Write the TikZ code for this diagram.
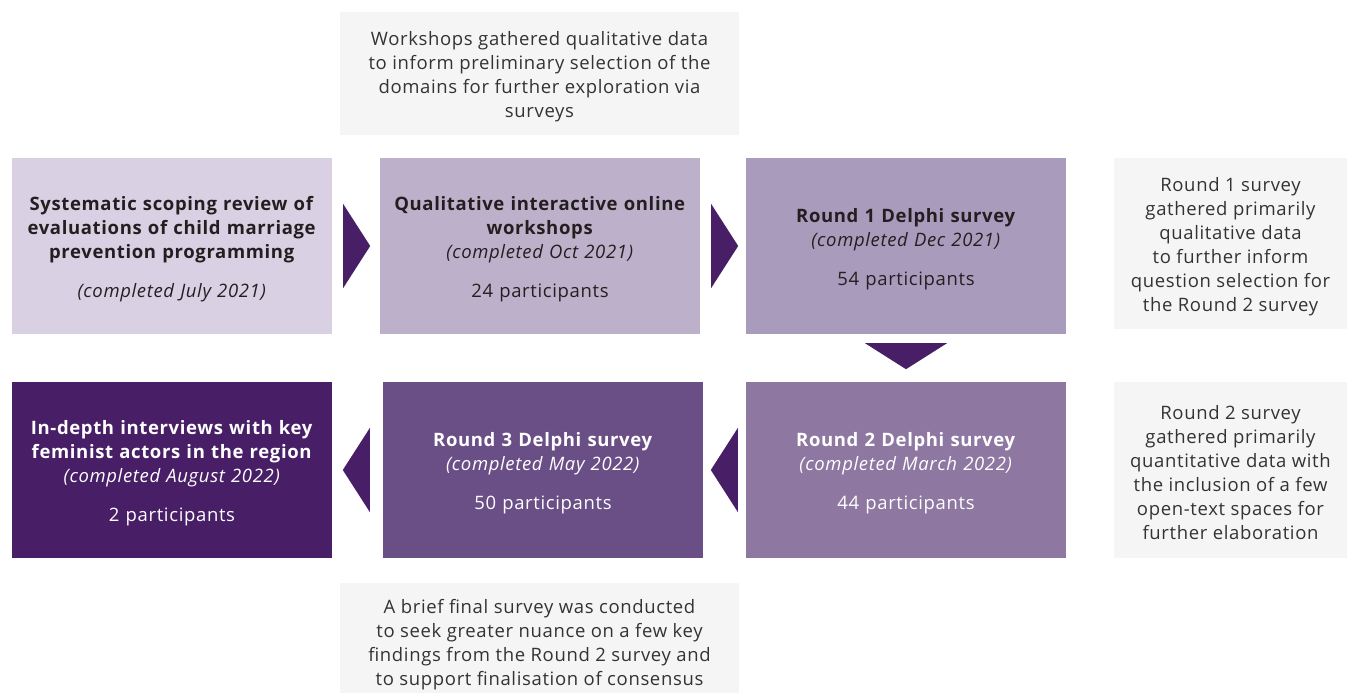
\documentclass[tikz,border=0pt]{standalone}
\usepackage{fontspec}
\setmainfont{Open Sans}[LetterSpace=3.5]
\usetikzlibrary{calc}
\definecolor{cA}{HTML}{D9D1E3}
\definecolor{cB}{HTML}{BDB0CB}
\definecolor{cC}{HTML}{A99BBC}
\definecolor{cD}{HTML}{8E78A1}
\definecolor{cE}{HTML}{6A4E86}
\definecolor{cF}{HTML}{481E66}
\definecolor{gbox}{HTML}{F5F5F5}
\definecolor{darktext}{HTML}{231F20}
\definecolor{graytext}{HTML}{333333}
\tikzset{
  stage/.style={minimum width=320pt, minimum height=176pt, inner sep=0pt},
  stagetext/.style={inner sep=0pt, text width=316pt, align=center, font=\fontsize{18.5}{24}\selectfont},
  note/.style={fill=gbox, inner sep=0pt},
  notetext/.style={inner sep=0pt, align=center, text=graytext, font=\fontsize{18.5}{24}\selectfont},
  tri/.style={fill=cF, draw=none}
}
\begin{document}
\begin{tikzpicture}[x=1pt,y=-1pt]
\useasboundingbox (0,0) rectangle (1347,693);
% stage boxes
\node[stage, fill=cA] (b1) at (172,246) {};
\node[stage, fill=cB] (b2) at (540,246) {};
\node[stage, fill=cC] (b3) at (906,246) {};
\node[stage, fill=cD] (b4) at (906,470) {};
\node[stage, fill=cE] (b5) at (543,470) {};
\node[stage, fill=cF] (b6) at (172,470) {};
\node[stagetext, text=darktext] (t1) at ([yshift=-3.5pt]b1.center)
  {\textbf{Systematic scoping review of}\\\textbf{evaluations of child marriage}\\\textbf{prevention programming}\\[15pt]\textit{(completed July 2021)}};
\node[stagetext, text=darktext] (t2) at ([yshift=-3.5pt]b2.center)
  {\textbf{Qualitative interactive online}\\\textbf{workshops}\\\textit{(completed Oct 2021)}\\[15pt]24 participants};
\node[stagetext, text=darktext] (t3) at ([yshift=-3.5pt]b3.center)
  {\textbf{Round 1 Delphi survey}\\\textit{(completed Dec 2021)}\\[15pt]54 participants};
\node[stagetext, text=white] (t4) at ([yshift=-3.5pt]b4.center)
  {\textbf{Round 2 Delphi survey}\\\textit{(completed March 2022)}\\[15pt]44 participants};
\node[stagetext, text=white] (t5) at ([yshift=-3.5pt]b5.center)
  {\textbf{Round 3 Delphi survey}\\\textit{(completed May 2022)}\\[15pt]50 participants};
\node[stagetext, text=white] (t6) at ([yshift=-3.5pt]b6.center)
  {\textbf{In-depth interviews with key}\\\textbf{feminist actors in the region}\\\textit{(completed August 2022)}\\[15pt]2 participants};
% notes
\node[note, minimum width=399pt, minimum height=123pt] (n1) at (539.5,73.5) {};
\node[note, minimum width=233pt, minimum height=171pt] (n2) at (1230.5,243.5) {};
\node[note, minimum width=233pt, minimum height=176pt] (n3) at (1230.5,470) {};
\node[note, minimum width=399pt, minimum height=124pt] (n4) at (539.5,645) {};
\node[notetext] (m1) at ([yshift=-3pt]n1.center)
  {Workshops gathered qualitative data\\to inform preliminary selection of the\\domains for further exploration via\\surveys};
\node[notetext] (m2) at ([yshift=-3pt]n2.center)
  {Round 1 survey\\gathered primarily\\qualitative data\\to further inform\\question selection for\\the Round 2 survey};
\node[notetext] (m3) at ([yshift=-3pt]n3.center)
  {Round 2 survey\\gathered primarily\\quantitative data with\\the inclusion of a few\\open-text spaces for\\further elaboration};
\node[notetext] (m4) at (n4.center)
  {A brief final survey was conducted\\to seek greater nuance on a few key\\findings from the Round 2 survey and\\to support finalisation of consensus};
% triangles
\fill[tri] ($(b1.east)+(11,-42)$) -- ($(b1.east)+(38,0)$) -- ($(b1.east)+(11,42)$) -- cycle;
\fill[tri] ($(b2.east)+(11,-42)$) -- ($(b2.east)+(38,0)$) -- ($(b2.east)+(11,42)$) -- cycle;
\fill[tri] ($(b3.south)+(-41,9)$) -- ($(b3.south)+(41,9)$) -- ($(b3.south)+(0,35)$) -- cycle;
\fill[tri] ($(b4.west)+(-8,-42)$) -- ($(b4.west)+(-35,0)$) -- ($(b4.west)+(-8,42)$) -- cycle;
\fill[tri] ($(b5.west)+(-13,-42)$) -- ($(b5.west)+(-40,0)$) -- ($(b5.west)+(-13,42)$) -- cycle;
\end{tikzpicture}
\end{document}
